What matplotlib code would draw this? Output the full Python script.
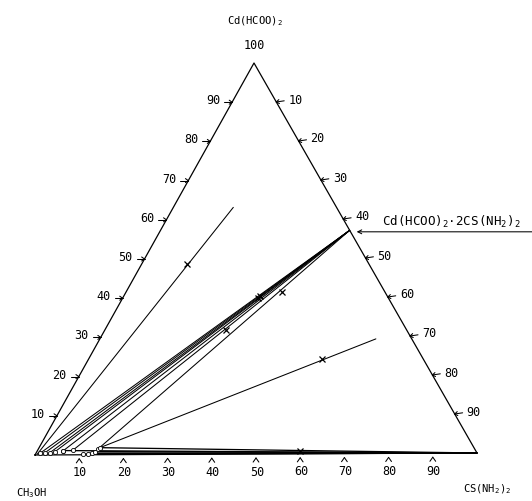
import math
import matplotlib
matplotlib.use("Agg")
import matplotlib.pyplot as plt

plt.rcParams['font.family'] = ['DejaVu Sans Mono', 'DejaVu Sans']
plt.rcParams['mathtext.default'] = 'regular'

# ---- data, mass % ----
ticks = [10, 20, 30, 40, 50, 60, 70, 80, 90]
top_name = 'Cd(HCOO)$_2$'
left_name = 'CH$_3$OH'
right_name = 'CS(NH$_2$)$_2$'
compound_name = 'Cd(HCOO)$_2$·2CS(NH$_2$)$_2$'
compound_cd, compound_cs = 57.1, 42.9

# solutions in equilibrium with the double salt, and their wet residues
salt_sol_cd = [0.4, 0.6, 0.6, 0.8, 1.1, 1.2, 1.4]
salt_sol_cs = [0.9, 2.0, 3.1, 4.1, 5.9, 8.0, 13.5]
salt_res_cd = [39.8, 40.3, 31.7, 41.5]
salt_res_cs = [30.8, 31.0, 27.6, 35.4]

# solutions in equilibrium with thiourea
tu_sol_cd = [0.1, 0.3, 0.4, 0.8, 1.8, 1.1]
tu_sol_cs = [10.9, 11.8, 12.6, 13.2, 13.8, 5.9]
tu_res_cd = [0.8]
tu_res_cs = [59.6]

# two tie lines that stop inside the triangle
line_start_cd = [0.2, 1.8]
line_start_cs = [0.4, 13.8]
line_end_cd = [63.1, 29.3]
line_end_cs = [13.6, 62.6]
line_res_cd = [48.6, 24.1]
line_res_cs = [10.4, 53.0]

# triangle corners in figure pixels
L = (35, 455)   # CH3OH
R = (477, 453)  # CS(NH2)2
T = (254, 63)   # Cd(HCOO)2


def tern(cd, cs):
    a = cd / 100.0
    b = cs / 100.0
    c = 1 - a - b
    return (c * L[0] + b * R[0] + a * T[0], c * L[1] + b * R[1] + a * T[1])


def seg(ax, p, q, lw=0.75):
    ax.plot([p[0], q[0]], [p[1], q[1]], color='black', lw=lw,
            solid_capstyle='round')


def arrow_tick(ax, tip, dx, dy, shaft=8.0, head=3.5):
    n = math.hypot(dx, dy)
    ux, uy = dx / n, dy / n
    if shaft > 0:
        seg(ax, (tip[0] - ux * shaft, tip[1] - uy * shaft), tip)
    for ang in (35, -35):
        r = math.radians(ang)
        bx = -(ux * math.cos(r) - uy * math.sin(r))
        by = -(ux * math.sin(r) + uy * math.cos(r))
        seg(ax, tip, (tip[0] + bx * head, tip[1] + by * head))


fig = plt.figure(figsize=(5.32, 5.01), dpi=100)
ax = fig.add_axes([0, 0, 1, 1])
ax.set_xlim(0, 532)
ax.set_ylim(501, 0)
ax.axis('off')

# triangle
ax.plot([L[0], R[0], T[0], L[0]], [L[1], R[1], T[1], L[1]],
        color='black', lw=0.9)

# ticks and labels
for t in ticks:
    p = tern(t, 0)          # left side: Cd(HCOO)2
    arrow_tick(ax, p, 1, 0)
    ax.text(p[0] - 12, p[1] - 1.5, str(t), ha='right', va='center', fontsize=8.5)
    p = tern(100 - t, t)    # right side: CS(NH2)2
    arrow_tick(ax, p, -1, 0.15)
    ax.text(p[0] + 12, p[1] - 2, str(t), ha='left', va='center', fontsize=8.5)
    p = tern(0, t)          # bottom: CS(NH2)2
    arrow_tick(ax, (p[0], p[1] + 4), 0, -1, shaft=0, head=5)
    ax.text(p[0] + 1, p[1] + 18, str(t), ha='center', va='center', fontsize=8.5)

ax.text(T[0] + 1, 21, top_name, ha='center', va='center', fontsize=7.5)
ax.text(T[0], 45, '100', ha='center', va='center', fontsize=8.5)
ax.text(32, 493, left_name, ha='center', va='center', fontsize=7.5)
ax.text(487, 489, right_name, ha='center', va='center', fontsize=7.5)

# double salt pointer
cp = tern(compound_cd, compound_cs)
ax.annotate('', xy=(cp[0] + 7, cp[1] + 1.5), xytext=(532, cp[1] + 1.5),
            arrowprops=dict(arrowstyle='->', lw=0.75, color='black',
                            shrinkA=0, shrinkB=0, mutation_scale=7))
ax.text(382, cp[1] - 8, compound_name, ha='left', va='center', fontsize=9)

# tie lines to the double salt
for cd, cs in zip(salt_sol_cd, salt_sol_cs):
    seg(ax, tern(cd, cs), cp)
# tie lines to thiourea
for cd, cs in zip(tu_sol_cd, tu_sol_cs):
    seg(ax, tern(cd, cs), R, lw=0.95)
# other tie lines
for a, b, c, d in zip(line_start_cd, line_start_cs, line_end_cd, line_end_cs):
    seg(ax, tern(a, b), tern(c, d))

# solution points
sx, sy = zip(*[tern(a, b) for a, b in zip(salt_sol_cd + tu_sol_cd,
                                           salt_sol_cs + tu_sol_cs)])
ax.plot(sx, sy, 'o', ms=3, mfc='white', mec='black', mew=0.6)

# wet residues
rx, ry = zip(*[tern(a, b) for a, b in zip(salt_res_cd + tu_res_cd + line_res_cd,
                                           salt_res_cs + tu_res_cs + line_res_cs)])
ax.plot(rx, ry, 'x', ms=3.8, color='black', mew=0.9)

fig.savefig('out.png', dpi=100)
